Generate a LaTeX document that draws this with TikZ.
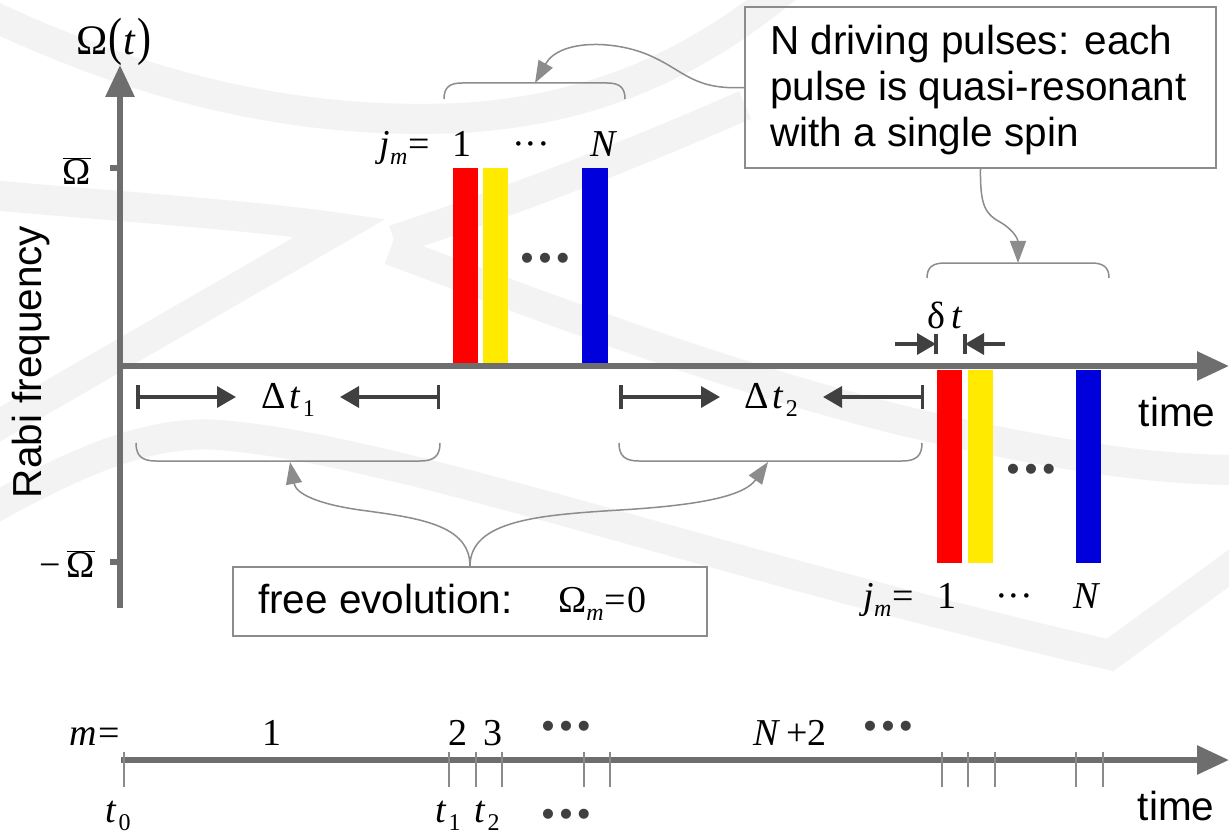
\documentclass[tikz,border=0pt]{standalone}
\usepackage{fontspec}
\setmainfont{Liberation Serif}
\setsansfont{Liberation Sans}
\usetikzlibrary{arrows.meta}
\definecolor{axisgray}{HTML}{6E6E6E}
\definecolor{dimdark}{HTML}{404040}
\definecolor{linegray}{HTML}{8C8C8C}
\definecolor{boxgray}{HTML}{8C8C8C}
\definecolor{tickgray}{HTML}{8A8A8A}
\definecolor{wmgray}{HTML}{F3F3F3}
\definecolor{pred}{HTML}{FF0000}
\definecolor{pyellow}{HTML}{FFEA00}
\definecolor{pblue}{HTML}{0000DD}
\newcommand{\subi}[1]{\raisebox{-8pt}{\fontsize{24}{24}\selectfont\textit{#1}}}
\newcommand{\subu}[1]{\raisebox{-8pt}{\fontsize{24}{24}\selectfont #1}}
\newcommand{\threedots}{•\kern5pt•\kern5pt•}
\begin{document}
\begin{tikzpicture}[x=1pt,y=-1pt,
  sanstext/.style={font=\sffamily\fontsize{40.5}{46}\selectfont, inner sep=0},
  sertext/.style={font=\fontsize{38}{44}\selectfont, inner sep=0},
  dotstext/.style={font=\sffamily\fontsize{37}{37}\selectfont, inner sep=0, text=dimdark},
  axisline/.style={draw=axisgray, line width=6, -{Triangle[length=32,width=28]}},
  dimarrow/.style={draw=dimdark, line width=3.5, {Bar[width=24,line width=3.5]}-{Triangle[length=19,width=21]}},
  dimtip/.style={draw=dimdark, line width=3.5, -{Triangle[length=19,width=21]}},
  dimbar/.style={draw=dimdark, line width=3.5},
  callout/.style={draw=linegray, line width=1.5, -{Triangle[length=22,width=16]}},
  bracepath/.style={draw=linegray, line width=1.5},
  wmband/.style={draw=wmgray, line width=30},
  tick/.style={draw=tickgray, line width=2.5},
  boxstyle/.style={draw=boxgray, line width=1.5, inner sep=0}]
% canvas
\fill[white] (0,0) rectangle (1229,837);
\useasboundingbox (0,0) rectangle (1229,837);
% faint background bands
\draw[wmband] (-10,15) .. controls (150,90) and (300,125) .. (460,118) .. controls (600,110) and (700,60) .. (790,-15);
\draw[wmband, line join=miter] (-10,195) .. controls (100,205) and (250,215) .. (340,228) -- (-10,430);
\draw[wmband] (394,240) .. controls (500,205) and (620,160) .. (745,105);
\draw[wmband] (390,250) .. controls (500,290) and (700,370) .. (900,420) .. controls (1050,455) and (1150,470) .. (1240,470);
\draw[wmband, line join=miter] (-10,510) .. controls (80,460) and (150,430) .. (220,435) .. controls (400,450) and (700,560) .. (1110,655) -- (1240,560);
% axes
\draw[axisline] (120,608) -- (120,65);
\draw[axisline] (117,366) -- (1229,366);
\draw[axisgray, line width=6] (110,168) -- (120,168);
\draw[axisgray, line width=6] (110,562) -- (120,562);
\node[font=\fontsize{42}{48}\selectfont, inner sep=0] (omt) at (114,42) {Ω\kern1pt\scalebox{1}[1.25]{(}\kern1pt\textit{t}\kern2pt\scalebox{1}[1.25]{)}};
\node[sertext] (omtop) at (77,171) {$\overline{\hbox{Ω}}$};
\node[sertext, anchor=east] (ombot) at (95,564) {−\kern6pt$\overline{\hbox{Ω}}$};
\node[sanstext, rotate=90] (rabi) at (31,362) {Rabi frequency};
\node[sanstext] (time1) at (1177,412) {time};
% upper pulse group
\fill[pred] (453,168) rectangle (478,363);
\fill[pyellow] (483,168) rectangle (508,363);
\fill[pblue] (582,168) rectangle (608,363);
\node[dotstext] (dots1) at (545,262) {\threedots};
\node[sertext, anchor=base east] (jm1) at (430,157) {\textit{j}\subi{m}\kern1pt=};
\node[sertext, anchor=base] (one1) at (462,157) {1};
\node[sertext, anchor=base] (cd1) at (531,157) {···};
\node[sertext, anchor=base] (enn1) at (604,157) {\textit{N}};
% lower pulse group
\fill[pred] (937,370) rectangle (962,563);
\fill[pyellow] (968,370) rectangle (993,563);
\fill[pblue] (1076,370) rectangle (1101,563);
\node[dotstext] (dots2) at (1031,473) {\threedots};
\node[sertext, anchor=base east] (jm2) at (914,608) {\textit{j}\subi{m}\kern1pt=};
\node[sertext, anchor=base] (one2) at (947,608) {1};
\node[sertext, anchor=base] (cd2) at (1014,608) {···};
\node[sertext, anchor=base] (enn2) at (1087,608) {\textit{N}};
% delta t
\node[sertext, anchor=base west] (delt) at (927,328) {δ\,\textit{t}};
\draw[dimbar] (936,334) -- (936,354);
\draw[dimbar] (965,334) -- (965,354);
\coordinate (dl0) at (895,344); \coordinate (dl1) at (936,344);
\coordinate (dr0) at (1005,344); \coordinate (dr1) at (965,344);
\draw[dimtip] (dl0) -- (dl1);
\draw[dimtip] (dr0) -- (dr1);
% Delta t intervals
\node[sertext, anchor=base west] (Dt1) at (261,408) {Δ\kern4pt\textit{t}\kern2pt\subu{1}};
\node[sertext, anchor=base west] (Dt2) at (744,408) {Δ\kern4pt\textit{t}\kern2pt\subu{2}};
\coordinate (a1) at (136,397); \coordinate (a2) at (236,397);
\coordinate (a3) at (440,397); \coordinate (a4) at (340,397);
\coordinate (a5) at (619,397); \coordinate (a6) at (720,397);
\coordinate (a7) at (924,397); \coordinate (a8) at (823,397);
\draw[dimarrow] (a1) -- (a2);
\draw[dimarrow] (a3) -- (a4);
\draw[dimarrow] (a5) -- (a6);
\draw[dimarrow] (a7) -- (a8);
% braces
\draw[bracepath] (444,99) .. controls (444,87) and (450,83) .. (462,83) -- (607,83) .. controls (619,83) and (625,87) .. (625,99);
\draw[bracepath] (927,278) .. controls (927,267) and (933,263) .. (945,263) -- (1091,263) .. controls (1103,263) and (1109,267) .. (1109,278);
\draw[bracepath] (136,443) .. controls (136,456) and (142,461) .. (156,461) -- (420,461) .. controls (434,461) and (440,456) .. (440,443);
\draw[bracepath] (619,443) .. controls (619,456) and (625,461) .. (639,461) -- (902,461) .. controls (916,461) and (922,456) .. (922,443);
\coordinate (b1) at (535,83);
\coordinate (b2) at (1018,263);
\coordinate (b3) at (290,462);
\coordinate (b4) at (768,462);
% text boxes
\node[boxstyle, minimum width=471, minimum height=161] (npbox) at (980.5,87.5) {};
\node[sanstext, anchor=base west] (np1) at (770,55) {N driving pulses: each};
\node[sanstext, anchor=base west] (np2) at (770,101) {pulse is quasi-resonant};
\node[sanstext, anchor=base west] (np3) at (770,147) {with a single spin};
\node[boxstyle, minimum width=474, minimum height=69] (febox) at (470,601.5) {};
\node[sanstext, anchor=base west] (fe1) at (258,613) {free evolution:};
\node[sertext, anchor=base west] (fe2) at (558,612) {Ω\subi{m}\kern1pt=\kern1pt0};
% callouts
\draw[callout] (npbox.west) .. controls (695,90) and (685,72) .. (655,58) .. controls (620,40) and (560,38) .. (b1);
\draw[callout] (npbox.south) .. controls (980,205) and (985,214) .. (1000,222) .. controls (1015,231) and (1018,240) .. (b2);
\draw[callout] (febox.north) .. controls (470,525) and (420,518) .. (360,510) .. controls (318,504) and (296,494) .. (b3);
\draw[callout] (febox.north) .. controls (470,520) and (540,515) .. (620,510) .. controls (705,505) and (745,495) .. (b4);
% bottom timeline
\draw[axisline] (121,760) -- (1229,760);
\foreach \tx in {124,449,476,502,584,610,942,968,995,1076,1103}
  \draw[tick] (\tx,752) -- (\tx,787);
\node[sertext, anchor=base east] (meq) at (120,745) {\textit{m}\kern1pt=};
\node[sertext, anchor=base] (m1) at (272,745) {1};
\node[sertext, anchor=base] (m2) at (458,745) {2};
\node[sertext, anchor=base] (m3) at (493,745) {3};
\node[dotstext] (dots3) at (566,730) {\threedots};
\node[sertext, anchor=base] (mN) at (790,745) {\textit{N}\kern6pt+2};
\node[dotstext] (dots4) at (888,730) {\threedots};
\node[sertext, anchor=base] (t0) at (118,822) {\textit{t}\kern2pt\subu{0}};
\node[sertext, anchor=base] (t1) at (448,822) {\textit{t}\kern2pt\subu{1}};
\node[sertext, anchor=base] (t2) at (487,822) {\textit{t}\kern2pt\subu{2}};
\node[dotstext] (dots5) at (566,818) {\threedots};
\node[sanstext] (time2) at (1176,806) {time};
\end{tikzpicture}
\end{document}
